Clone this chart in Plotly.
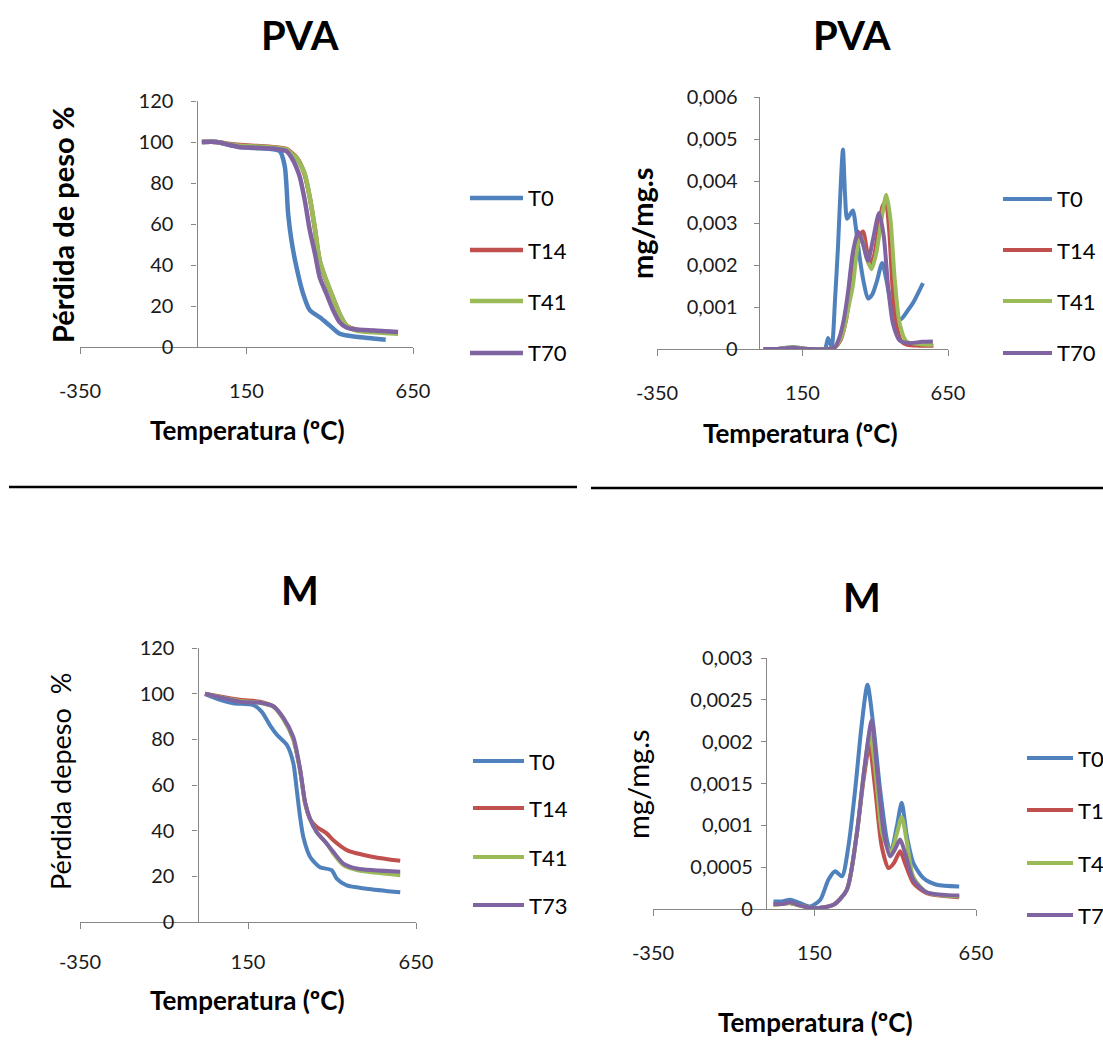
import plotly.graph_objects as go

# ---------------- data ----------------
series_pva = ["T0", "T14", "T41", "T70"]
series_m = ["T0", "T14", "T41", "T73"]
colors = ["#4F81BD", "#C0504D", "#9BBB59", "#8064A2"]

x_tickvals = [-350, 150, 650]
x_ticktext = ["-350", "150", "650"]

# PVA - pérdida de peso (%)
pva_tga_t0_T = [16, 60, 100, 130, 180, 230, 250, 265, 275, 285, 300, 320, 340, 370, 400, 430, 480, 530, 568]
pva_tga_t0_W = [100, 100, 98.5, 97.5, 97, 96.5, 95.5, 88, 65, 52, 39, 26, 18, 14.5, 10.5, 6.5, 5, 4.2, 3.5]
pva_tga_T = [16, 60, 100, 130, 180, 230, 270, 290, 300, 310, 325, 340, 355, 370, 390, 410, 430, 450, 480, 530, 605]
pva_tga_t14_W = [100, 100, 99, 98.5, 98, 97.5, 96.5, 94, 92.5, 90, 84, 73, 58, 42, 32, 24, 16, 10.5, 8.5, 7.8, 7]
pva_tga_t41_W = [100, 100, 98.8, 98.2, 97.8, 97.3, 96.3, 93.5, 92.5, 89.5, 84.5, 73, 58.5, 42, 32.5, 24, 16, 10.6, 8, 7.2, 6.5]
pva_tga_t70_W = [100, 100, 98.5, 97.5, 97.2, 96.8, 95.5, 91, 87.5, 83, 71.5, 57, 46, 34, 26, 18, 12, 9.5, 8.5, 8, 7.3]

# PVA - DTG (mg/mg.s)
pva_dtg_t0_T = [16, 60, 117, 170, 226, 238, 250, 262, 272, 282, 289, 296, 303, 313, 323, 335, 346, 360, 375,
                390, 405, 424, 438, 450, 461, 475, 490, 510, 530, 564]
pva_dtg_t0_V = [0, 0, 0.00004, 0, 0, 0.00026, 0.00005, 0.0012, 0.00244, 0.0040, 0.00475, 0.0037, 0.0031, 0.0032,
                0.0033, 0.0028, 0.0022, 0.0016, 0.0012, 0.0013, 0.0016, 0.00205, 0.00165, 0.0012, 0.0009, 0.00075,
                0.00072, 0.0009, 0.0011, 0.00157]
pva_dtg_t14_T = [16, 60, 117, 170, 230, 260, 280, 300, 320, 340, 358, 370, 380, 395, 410, 425, 436, 448, 460,
                 475, 490, 510, 550, 600]
pva_dtg_t14_V = [0, 0, 0.00003, 0, 0, 0.00003, 0.0002, 0.0007, 0.0017, 0.0026, 0.0028, 0.0024, 0.002, 0.0022,
                 0.0028, 0.0034, 0.0035, 0.0028, 0.0014, 0.0005, 0.00018, 0.0001, 0.00008, 0.00008]
pva_dtg_t41_T = [16, 60, 117, 170, 230, 260, 289, 305, 323, 341, 352, 369, 387, 404, 424, 438, 452, 467, 484,
                 507, 550, 598]
pva_dtg_t41_V = [0, 0, 0.00004, 0, 0, 0.00003, 0.0004, 0.0009, 0.0015, 0.0025, 0.00265, 0.0022, 0.0019, 0.0023,
                 0.0032, 0.00367, 0.0031, 0.00165, 0.0006, 0.00018, 0.00012, 0.0001]
pva_dtg_t70_T = [16, 60, 117, 170, 243, 262, 278, 292, 306, 323, 341, 358, 375, 392, 413, 429, 444, 461, 484,
                 518, 560, 598]
pva_dtg_t70_V = [0, 0, 0.00003, 0, 0, 0.00005, 0.0003, 0.0007, 0.00133, 0.0023, 0.0028, 0.0025, 0.0021, 0.0026,
                 0.00324, 0.0027, 0.0015, 0.0006, 0.0002, 0.00014, 0.00017, 0.00018]

# M - pérdida de peso (%)
m_tga_t0_T = [22, 67, 106, 166, 191, 216, 236, 266, 285, 295, 305, 315, 335, 364, 399, 414, 444, 503, 603]
m_tga_t0_W = [99.8, 97.3, 95.8, 95, 92, 86, 82, 77.5, 69.5, 58, 46, 37, 28.5, 24, 22.7, 19, 16, 14.6, 13]
m_tga_t14_T = [22, 67, 126, 186, 226, 255, 285, 305, 320, 335, 354, 384, 404, 444, 523, 603]
m_tga_t14_W = [100, 98.8, 97.3, 96.5, 94.4, 89, 80, 66.5, 52, 45, 41.7, 38.8, 35.8, 31.5, 28.5, 26.8]
m_tga_T = [22, 67, 126, 186, 226, 255, 285, 305, 320, 335, 354, 384, 404, 434, 474, 603]
m_tga_t41_W = [100, 98.5, 96.8, 96, 94.2, 89, 80, 66.5, 52, 45, 39.5, 34.4, 30, 24.9, 22.7, 20.5]
m_tga_t73_W = [100, 98.3, 96.5, 96, 94.4, 89.5, 81, 67, 52.5, 45, 39.5, 34.4, 30.7, 25.6, 23.4, 22]

# M - DTG (mg/mg.s)
m_dtg_t0_T = [23, 49, 75, 106, 137, 168, 193, 214, 235, 255, 276, 296, 314, 332, 353, 374, 386, 405, 420, 436,
              456, 487, 528, 598]
m_dtg_t0_V = [0.00009, 0.00009, 0.00011, 0.00007, 0.00003, 0.00011, 0.00035, 0.00045, 0.00039, 0.00075, 0.00143,
              0.0022, 0.00268, 0.0022, 0.00143, 0.00083, 0.00067, 0.00099, 0.00127, 0.00087, 0.00055, 0.00037,
              0.00029, 0.00027]
m_dtg_t14_T = [23, 49, 75, 106, 150, 209, 250, 281, 302, 320, 338, 358, 379, 396, 415, 430, 456, 497, 598]
m_dtg_t14_V = [0.00005, 0.00006, 0.00007, 0.00004, 0.00001, 0.00005, 0.00023, 0.0009, 0.00155, 0.00195, 0.00143,
               0.00075, 0.00049, 0.00055, 0.00069, 0.00055, 0.00031, 0.00019, 0.00014]
m_dtg_t41_T = [23, 49, 75, 106, 150, 209, 250, 281, 302, 322, 340, 360, 386, 405, 420, 436, 456, 497, 598]
m_dtg_t41_V = [0.00005, 0.00006, 0.00007, 0.00004, 0.00001, 0.00005, 0.00023, 0.0009, 0.0016, 0.0021, 0.0016,
               0.0009, 0.00067, 0.0009, 0.0011, 0.0008, 0.00038, 0.0002, 0.00015]
m_dtg_t73_T = [23, 49, 75, 106, 150, 209, 250, 281, 305, 327, 345, 365, 384, 400, 415, 432, 456, 497, 598]
m_dtg_t73_V = [0.00006, 0.00006, 0.00008, 0.00004, 0.00001, 0.00005, 0.00023, 0.0009, 0.0017, 0.00225, 0.0016,
               0.0009, 0.00063, 0.00072, 0.00083, 0.00065, 0.00035, 0.0002, 0.00016]

# ---------------- layout helpers ----------------
# positions below are window pixels; the page margin is removed after plotting
W, H = 1103, 1042
FONT = "Lato"
AXIS_GREY = "#868686"
TICK_SIZE = 20


def fx(px):
    return px / W


def fy(py):
    return 1 - py / H


panels = [
    dict(title="PVA", ytitle="Pérdida de peso %", ybold=True, ysize=29, names=series_pva,
         xs=[pva_tga_t0_T, pva_tga_T, pva_tga_T, pva_tga_T],
         ys=[pva_tga_t0_W, pva_tga_t14_W, pva_tga_t41_W, pva_tga_t70_W],
         yrange=[0, 120], dtick=20, lw=4.5,
         box=(80, 413, 101, 347), title_xy=(300, 35), xt_xy=(247, 430), yt_xy=(62, 225),
         leg_x=(470, 523), leg_y=[198, 250, 301, 353], ystand=14, xstand=20),
    dict(title="PVA", ytitle="mg/mg.s", ybold=True, ysize=29, names=series_pva,
         xs=[pva_dtg_t0_T, pva_dtg_t14_T, pva_dtg_t41_T, pva_dtg_t70_T],
         ys=[pva_dtg_t0_V, pva_dtg_t14_V, pva_dtg_t41_V, pva_dtg_t70_V],
         yrange=[0, 0.006], dtick=0.001, lw=4,
         box=(657, 948, 97, 349), title_xy=(852, 35), xt_xy=(800, 433), yt_xy=(641, 223),
         leg_x=(1003, 1052), leg_y=[199, 250, 301, 353], ystand=12, xstand=20),
    dict(title="M", ytitle="Pérdida depeso  %", ybold=False, ysize=27, names=series_m,
         xs=[m_tga_t0_T, m_tga_t14_T, m_tga_T, m_tga_T],
         ys=[m_tga_t0_W, m_tga_t14_W, m_tga_t41_W, m_tga_t73_W],
         yrange=[0, 120], dtick=20, lw=4,
         box=(80, 416, 648, 922), title_xy=(300, 590), xt_xy=(247, 1000), yt_xy=(60, 782),
         leg_x=(473, 524), leg_y=[761, 808, 857, 905], ystand=14, xstand=16),
    dict(title="M", ytitle="mg/mg.s", ybold=False, ysize=29, names=series_m,
         xs=[m_dtg_t0_T, m_dtg_t14_T, m_dtg_t41_T, m_dtg_t73_T],
         ys=[m_dtg_t0_V, m_dtg_t14_V, m_dtg_t41_V, m_dtg_t73_V],
         yrange=[0, 0.003], dtick=0.0005, lw=4,
         box=(653, 976, 658, 909), title_xy=(862, 597), xt_xy=(815, 1022), yt_xy=(637, 784),
         leg_x=(1027, 1073), leg_y=[758, 810, 863, 915], ystand=4, xstand=20),
]

fig = go.Figure()
annotations = []
shapes = []

for i, p in enumerate(panels, start=1):
    xa = "x" if i == 1 else f"x{i}"
    ya = "y" if i == 1 else f"y{i}"
    for name, xv, yv, col in zip(p["names"], p["xs"], p["ys"], colors):
        fig.add_trace(go.Scatter(
            x=xv, y=yv, name=name, mode="lines", xaxis=xa, yaxis=ya,
            line=dict(color=col, width=p["lw"], shape="spline", smoothing=0.7),
            showlegend=False,
        ))

    x0, x1, y0, y1 = p["box"]
    xdom = [fx(x0), fx(x1)]
    ydom = [fy(y1), fy(y0)]
    # y axis crosses the x axis at 0 °C (Excel style)
    ypos = xdom[0] + (0 - x_tickvals[0]) / (x_tickvals[-1] - x_tickvals[0]) * (xdom[1] - xdom[0])

    fig.layout[f"xaxis{'' if i == 1 else i}"] = dict(
        domain=xdom, anchor=ya, range=[x_tickvals[0], x_tickvals[-1]], automargin=False,
        tickvals=x_tickvals, ticktext=x_ticktext,
        showline=True, linecolor=AXIS_GREY, linewidth=1.3,
        ticks="outside", ticklen=6, tickcolor=AXIS_GREY, tickwidth=1.3,
        ticklabelstandoff=p["xstand"], showgrid=False, zeroline=False,
        tickfont=dict(family=FONT, size=TICK_SIZE, color="#1a1a1a"),
    )
    fig.layout[f"yaxis{'' if i == 1 else i}"] = dict(
        domain=ydom, anchor="free", position=ypos, range=p["yrange"], dtick=p["dtick"], automargin=False,
        showline=True, linecolor=AXIS_GREY, linewidth=1.3,
        ticks="outside", ticklen=5, tickcolor=AXIS_GREY, tickwidth=1.3,
        ticklabelstandoff=p["ystand"], showgrid=False, zeroline=False,
        tickfont=dict(family=FONT, size=TICK_SIZE, color="#1a1a1a"),
    )

    # titles
    tx, ty = p["title_xy"]
    annotations.append(dict(text=f"<b>{p['title']}</b>", x=fx(tx), y=fy(ty), xref="paper", yref="paper",
                            xanchor="center", yanchor="middle",
                            showarrow=False, font=dict(family=FONT, size=40, color="black")))
    xtx, xty = p["xt_xy"]
    annotations.append(dict(text="<b>Temperatura (ºC)</b>", x=fx(xtx), y=fy(xty), xref="paper", yref="paper",
                            xanchor="center", yanchor="middle",
                            showarrow=False, font=dict(family=FONT, size=26, color="black")))
    ytx, yty = p["yt_xy"]
    ytext = f"<b>{p['ytitle']}</b>" if p["ybold"] else p["ytitle"]
    annotations.append(dict(text=ytext, x=fx(ytx), y=fy(yty), xref="paper", yref="paper", textangle=-90,
                            xanchor="center", yanchor="middle",
                            showarrow=False, font=dict(family=FONT, size=p["ysize"], color="black")))

    # legend (Excel style: long line sample, text to the right)
    lx0, lx1 = p["leg_x"]
    for name, ly, col in zip(p["names"], p["leg_y"], colors):
        shapes.append(dict(type="line", xref="paper", yref="paper", x0=fx(lx0), x1=fx(lx1),
                           y0=fy(ly), y1=fy(ly), line=dict(color=col, width=p["lw"])))
        annotations.append(dict(text=name, x=fx(lx1 + 3), y=fy(ly), xref="paper", yref="paper",
                                xanchor="left", yanchor="middle", showarrow=False,
                                font=dict(family=FONT, size=22, color="black")))

# separators between the two rows
shapes.append(dict(type="line", xref="paper", yref="paper", x0=fx(9), x1=fx(577), y0=fy(487), y1=fy(487),
                   line=dict(color="black", width=2.5)))
shapes.append(dict(type="line", xref="paper", yref="paper", x0=fx(591), x1=fx(1103), y0=fy(488), y1=fy(488),
                   line=dict(color="black", width=2.5)))

fig.update_layout(
    width=W, height=H,
    margin=dict(l=0, r=0, t=0, b=0, autoexpand=False),
    paper_bgcolor="white", plot_bgcolor="white",
    separators=", ",
    showlegend=False,
    annotations=annotations,
    shapes=shapes,
    font=dict(family=FONT, color="black"),
)

fig.write_html("out.html", config={"displayModeBar": False},
               post_script="document.body.style.margin='0px'; document.body.style.overflow='hidden';")
